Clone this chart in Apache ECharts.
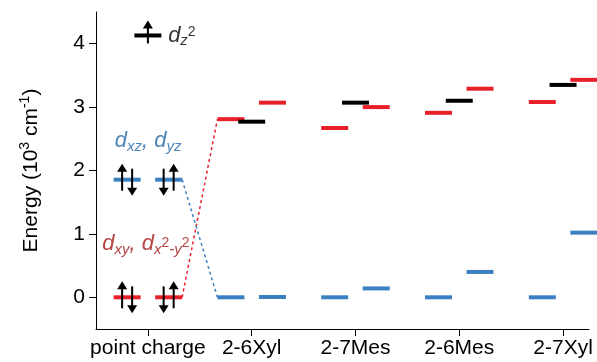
<!DOCTYPE html>
<html><head><meta charset="utf-8">
<script src="https://cdn.jsdelivr.net/npm/echarts@6/dist/echarts.min.js"></script>
<style>html,body{margin:0;padding:0;background:#fff}#c{width:597px;height:362px}</style>
</head><body><div id="c"></div>
<script>
// ---- data ----
const categories = ['point charge', '2-6Xyl', '2-7Mes', '2-6Mes', '2-7Xyl'];
const yTicks = [0, 1, 2, 3, 4];
const xTicks = [0, 1, 2, 3, 4];
const dz2   = [4.13, 2.77, 3.07, 3.10, 3.35];
const dxy   = [0.00, 2.81, 2.67, 2.91, 3.08];
const dx2y2 = [0.00, 3.07, 3.00, 3.29, 3.43];
const dxz   = [1.855, 0.00, 0.00, 0.00, 0.00];
const dyz   = [1.855, 0.005, 0.14, 0.40, 1.02];
// electrons in the point-charge levels: [level, slot(-1 left, 0 centre, 1 right), spins (1 up, -1 down)]
const pcElectrons = [
  [dxy[0], -1, [1, -1]],
  [dx2y2[0], 1, [-1, 1]],
  [dxz[0], -1, [1, -1]],
  [dyz[0], 1, [-1, 1]],
  [dz2[0], 0, [1]]
];

// ---- style constants ----
const SLOT = 0.2, HW = 0.13;
const RED = '#e8202a', BLUE = '#3b7fc0', BLACK = '#000';
const FONT = '"Liberation Sans", Arial, Helvetica, sans-serif';

function levelSeries(name, values, slot, color, z) {
  return {
    name, type: 'custom', clip: false, z,
    data: values.map((v, i) => [i, v]),
    renderItem(params, api) {
      const x = api.value(0) + slot * SLOT, y = api.value(1);
      const p1 = api.coord([x - HW, y]), p2 = api.coord([x + HW, y]);
      return { type: 'rect', shape: { x: p1[0], y: p1[1] - 2, width: p2[0] - p1[0], height: 4 },
               style: { fill: color } };
    }
  };
}

const arrowData = [];
pcElectrons.forEach(([lvl, slot, spins]) => {
  spins.forEach((s, k) => {
    const shift = spins.length === 1 ? 0 : (k === 0 ? -1 : 1);
    arrowData.push([0, lvl, slot, s, shift, spins.length]);
  });
});

const arrowSeries = {
  type: 'custom', clip: false, z: 5,
  data: arrowData,
  renderItem(params, api) {
    const xv = api.value(0) + api.value(2) * SLOT, yv = api.value(1);
    const dir = api.value(3), shift = api.value(4), n = api.value(5);
    const c = api.coord([xv, yv]);
    const cx = c[0] + shift * 5;
    let top, bot;
    if (n === 1) { top = c[1] - 15; bot = c[1] + 8; }
    else if (dir > 0) { top = c[1] - 16; bot = c[1] + 11; }
    else { top = c[1] - 11; bot = c[1] + 16; }
    const head = 8, hw = 5;
    let line, poly;
    if (dir > 0) {
      line = { x1: cx, y1: top + head - 1, x2: cx, y2: bot };
      poly = [[cx, top], [cx - hw, top + head], [cx + hw, top + head]];
    } else {
      line = { x1: cx, y1: top, x2: cx, y2: bot - head + 1 };
      poly = [[cx, bot], [cx - hw, bot - head], [cx + hw, bot - head]];
    }
    return { type: 'group', children: [
      { type: 'line', shape: line, style: { stroke: BLACK, lineWidth: 2 } },
      { type: 'polygon', shape: { points: poly }, style: { fill: BLACK } }
    ]};
  }
};

function dashed(color, y0, y1) {
  return {
    type: 'line', silent: true, symbol: 'none', z: 1,
    data: [[0 + SLOT + HW, y0], [1 - SLOT - HW, y1]],
    lineStyle: { color, width: 1.5, type: [3, 3] }
  };
}

function richFor(color, supPad) {
  return {
    d: { fontSize: 22, fontStyle: 'italic', color, fontFamily: FONT, lineHeight: 26 },
    s: { fontSize: 15, fontStyle: 'italic', color, fontFamily: FONT, lineHeight: 15, verticalAlign: 'bottom' },
    p: { fontSize: 14, fontStyle: 'normal', color, fontFamily: FONT, lineHeight: 15, verticalAlign: 'top',
         padding: [supPad, 0, 0, 0] }
  };
}

function textLabel(x, y, fmt, color, supPad) {
  return {
    type: 'scatter', symbolSize: 0, silent: true, z: 6,
    data: [[x, y]],
    label: { show: true, position: 'right', distance: 0, formatter: fmt, rich: richFor(color, supPad) }
  };
}

const chart = echarts.init(document.getElementById('c'), null, { renderer: 'canvas' });
chart.setOption({
  animation: false,
  backgroundColor: '#fff',
  grid: { left: 96, right: 8, top: 12, bottom: 33, containLabel: false, outerBoundsMode: 'none' },
  xAxis: {
    type: 'value', min: -0.5, max: 4.25,
    axisLine: { onZero: false, lineStyle: { color: BLACK, width: 1 } },
    axisTick: { show: true, length: 7, customValues: xTicks, lineStyle: { color: BLACK } },
    axisLabel: { customValues: xTicks, margin: 9, color: BLACK, fontSize: 21, fontFamily: FONT,
                 formatter: v => categories[Math.round(v)] },
    splitLine: { show: false }
  },
  yAxis: {
    type: 'value', min: -0.5, max: 4.5,
    name: '{n|Energy (10}{p|3}{n| cm}{p|-1}{n|)}',
    nameLocation: 'middle', nameGap: 52,
    nameTextStyle: { rich: {
      n: { fontSize: 21, fontFamily: FONT, color: BLACK, lineHeight: 26 },
      p: { fontSize: 14, fontFamily: FONT, color: BLACK, lineHeight: 16, verticalAlign: 'top' }
    }},
    axisLine: { show: true, onZero: false, lineStyle: { color: BLACK, width: 1 } },
    axisTick: { show: true, length: 7, customValues: yTicks, lineStyle: { color: BLACK } },
    axisLabel: { customValues: yTicks, margin: 11, color: BLACK, fontSize: 21, fontFamily: FONT },
    splitLine: { show: false }
  },
  series: [
    dashed(RED, dx2y2[0], dxy[1]),
    dashed(BLUE, dyz[0], dxz[1]),
    levelSeries('dxy', dxy, -1, RED, 2),
    levelSeries('dx2y2', dx2y2, 1, RED, 2),
    levelSeries('dxz', dxz, -1, BLUE, 2),
    levelSeries('dyz', dyz, 1, BLUE, 2),
    levelSeries('dz2', dz2, 0, BLACK, 3),
    arrowSeries,
    textLabel(-0.32, 2.46, '{d|d}{s|xz}{d|, d}{s|yz}', '#2166a8', 0),
    textLabel(-0.44, 0.84, '{d|d}{s|xy}{d|, d}{s|x}{p|2}{s|-y}{p|2}', '#a31515', 5),
    textLabel(0.195, dz2[0], '{d|d}{s|z}{p|2}', BLACK, 3)
  ]
});
</script></body></html>
